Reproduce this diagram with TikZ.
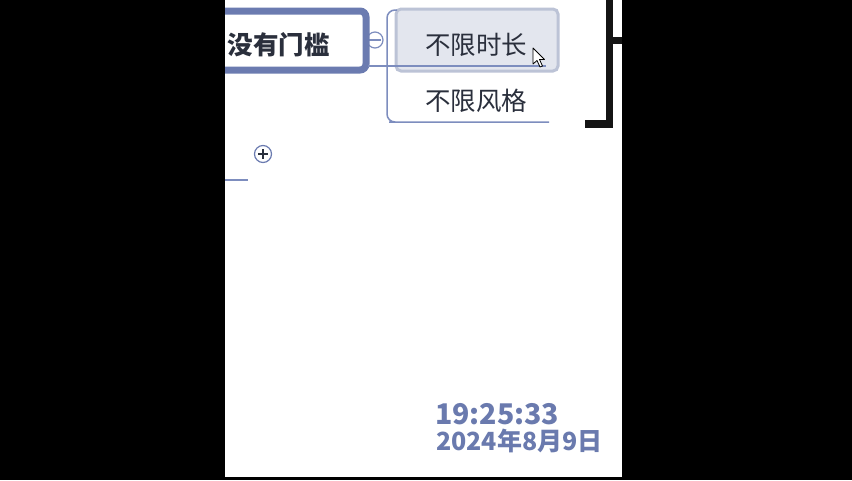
\documentclass[tikz,border=0pt]{standalone}
\usepackage{fontspec}
\newfontfamily\cjk{Noto Sans CJK SC}
\definecolor{nodeblue}{HTML}{6B7BB0}
\definecolor{linkblue}{HTML}{7D8DBE}
\definecolor{hlfill}{HTML}{E3E6EE}
\definecolor{hldraw}{HTML}{BCC3D6}
\definecolor{txtdark}{HTML}{2A2F3C}
\definecolor{datecol}{HTML}{6A7AAE}
\tikzset{
  topictext/.style={font=\cjk\fontsize{25.5}{25.5}\selectfont, text=txtdark, inner sep=0pt},
  maintext/.style={font=\cjk\bfseries\fontsize{25.5}{25.5}\selectfont, text=txtdark, inner sep=0pt},
  datetext/.style={font=\cjk\bfseries, text=datecol, inner sep=0pt, anchor=west},
  linkline/.style={draw=linkblue, line width=1.5pt},
  togglecirc/.style={circle, draw=linkblue, line width=1.2pt, minimum size=16pt, inner sep=0pt},
  blackbar/.style={fill=black!92},
}
\begin{document}
\begin{tikzpicture}[x=1pt,y=-1pt]
\useasboundingbox (0,0) rectangle (852,480);
\fill[black] (0,0) rectangle (852,480);
\fill[white] (225,0) rectangle (622,477);
\begin{scope}
\clip (225,0) rectangle (622,477);
% highlight behind first topic
\draw[fill=hlfill, draw=hldraw, line width=3pt, rounded corners=5pt] (396,9) rectangle (558,71);
% collapse toggle
\node[togglecirc] (tog) at (375,40) {};
\draw[linkblue, line width=1.2pt] (369,40) -- (381,40);
% main node border
\draw[nodeblue, line width=7pt, rounded corners=6pt] (200,11) -- (366,11) -- (366,70) -- (200,70);
\node[maintext] (main) at (278.5,45) {没有门槛};
% connectors
\coordinate (mainout) at (368,66);
\coordinate (brtop) at (397,10);
\coordinate (brbot) at (397,122);
\coordinate (u1end) at (546,66);
\coordinate (u2end) at (549,122);
\draw[linkline] (mainout) -- (u1end);
\draw[linkline, rounded corners=8pt] (brtop) -- (387,10) -- (387,122) -- (brbot) -- (u2end);
% topics
\node[topictext] (t1) at (476,44.5) {不限时长};
\node[topictext] (t2) at (476,100.5) {不限风格};
% cursor
\draw[fill=white, draw=black, line width=0.8pt, line join=round]
  (533,48) -- (533,64) -- (537,60.5) -- (540,67) -- (542.5,66) -- (539.5,59.5) -- (544.5,59.5) -- cycle;
% right black bracket
\fill[blackbar] (606,0) rectangle (613,128);
\fill[blackbar] (585,120) rectangle (613,128);
\fill[blackbar] (613,37) rectangle (622,44);
% expand toggle
\node[togglecirc, draw=nodeblue, minimum size=17pt] (exp) at (263,154) {};
\draw[txtdark, line width=1.2pt] (258,154) -- (268,154) (263,149) -- (263,159);
\coordinate (leftline) at (225,180);
\coordinate (leftend) at (248,180);
\draw[linkline] (leftline) -- (leftend);
% date
\node[datetext, font=\cjk\bfseries\fontsize{28.5}{28.5}\selectfont] (time) at (435,414) {19:25:33};
\node[datetext, font=\cjk\bfseries\fontsize{25}{25}\selectfont] (date) at (436,441) {2024年8月9日};
\end{scope}
\end{tikzpicture}
\end{document}
